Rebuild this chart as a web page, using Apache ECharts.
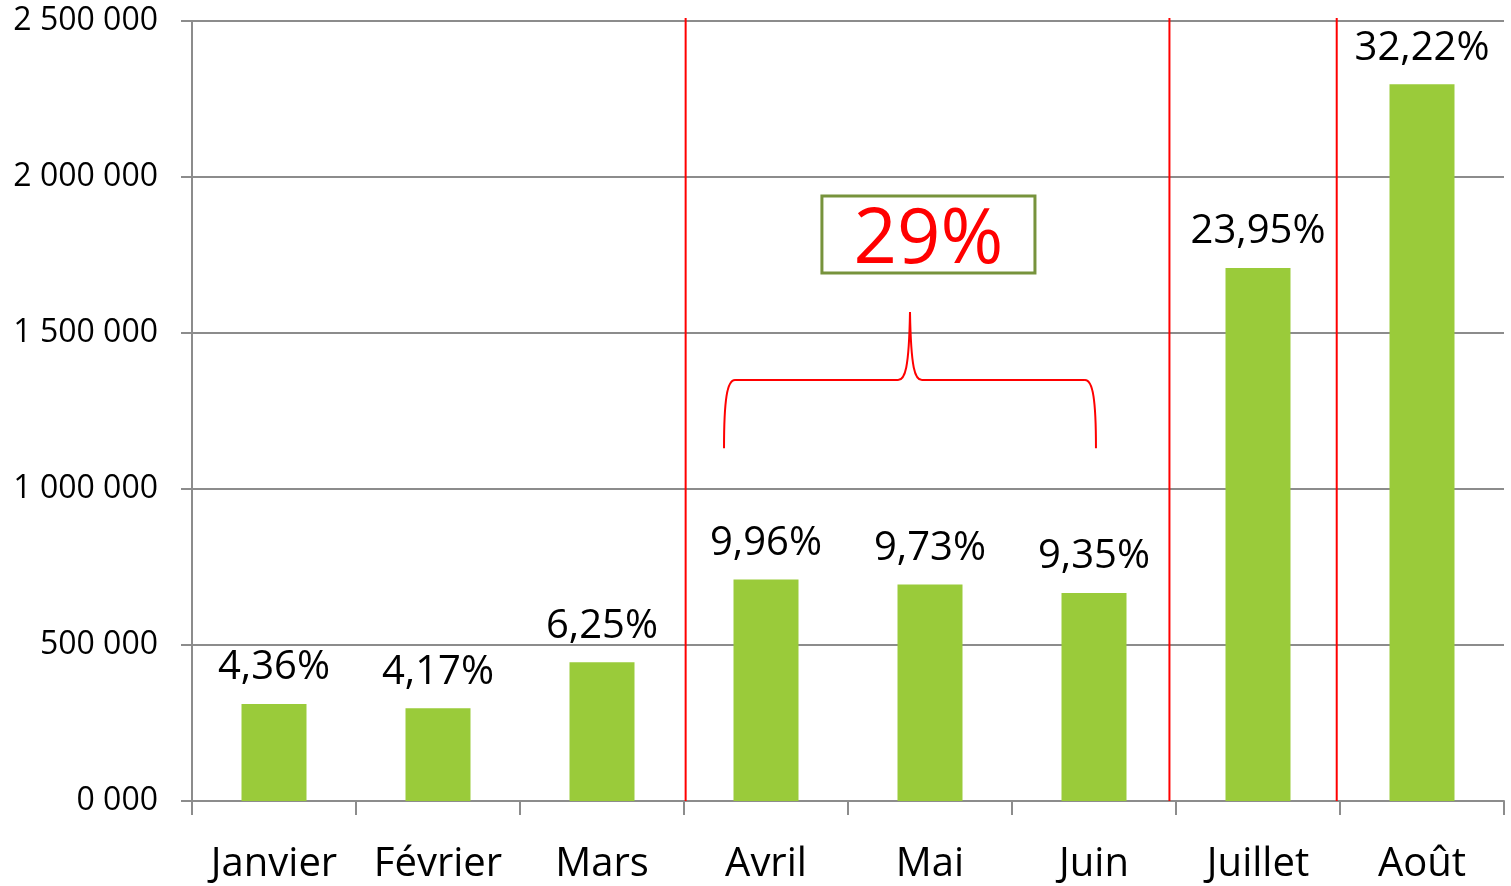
<!DOCTYPE html>
<html>
<head>
<meta charset="utf-8">
<script src="https://cdn.jsdelivr.net/npm/echarts@6/dist/echarts.min.js"></script>
<style>
    html, body { margin: 0; padding: 0; background: #fff; }
    #main { width: 1511px; height: 886px; }
</style>
</head>
<body>
<div id="main"></div>
<script>
    const months = ['Janvier', 'Février', 'Mars', 'Avril', 'Mai', 'Juin', 'Juillet', 'Août'];
    const values = [311000, 297000, 445000, 710000, 694000, 667000, 1708000, 2297000];
    const shares = ['4,36%', '4,17%', '6,25%', '9,96%', '9,73%', '9,35%', '23,95%', '32,22%'];
    const yTickLabels = ['0 000', '500 000', '1 000 000', '1 500 000', '2 000 000', '2 500 000'];
    // separators, in category units (0..8)
    const separators = [3.01, 5.96, 6.98];
    const groupLabel = '29%';

    const gray = '#8c8c8c';
    const font = 'Open Sans';

    // red vertical separators as plain line series on a hidden value axis
    const sepSeries = separators.map(x => ({
        type: 'line',
        xAxisIndex: 1,
        data: [[x, 0], [x, 2510000]],
        symbol: 'none',
        clip: false,
        silent: true,
        lineStyle: {color: '#ff0000', width: 2}
    }));

    const myChart = echarts.init(document.getElementById('main'));
    myChart.setOption({
        animation: false,
        textStyle: {fontFamily: font},
        grid: {left: 192, right: 7, top: 21, bottom: 85},
        xAxis: [
            {
                type: 'category',
                data: months,
                boundaryGap: true,
                axisLine: {lineStyle: {color: gray, width: 2}},
                axisTick: {show: true, length: 14, lineStyle: {color: gray, width: 2}},
                axisLabel: {color: '#000', fontSize: 40, margin: 44, fontFamily: font, interval: 0}
            },
            {type: 'value', min: 0, max: 8, show: false}
        ],
        yAxis: {
            type: 'value',
            min: 0,
            max: 2500000,
            interval: 500000,
            axisLine: {show: true, lineStyle: {color: gray, width: 2}},
            axisTick: {show: true, length: 11, lineStyle: {color: gray, width: 2}},
            splitLine: {lineStyle: {color: gray, width: 2}},
            axisLabel: {
                color: '#000', fontSize: 32, margin: 34, fontFamily: font,
                formatter: (v) => yTickLabels[Math.round(v / 500000)]
            }
        },
        series: [
            {
                type: 'bar',
                data: values,
                barWidth: 65,
                itemStyle: {color: '#9acb3a'},
                label: {
                    show: true,
                    position: 'top',
                    distance: 16,
                    color: '#000',
                    fontSize: 40,
                    fontFamily: font,
                    formatter: (p) => shares[p.dataIndex]
                }
            }
        ].concat(sepSeries)
    });

    function px(x, y) {
        return myChart.convertToPixel({xAxisIndex: 1, yAxisIndex: 0}, [x, y]);
    }

    // brace over Avril-Juin and boxed total
    const [x0, yb] = px(3.244, 1131000);
    const [x1] = px(5.512, 0);
    const [xm, yh] = px(4.378, 1349000);
    const [, yt] = px(0, 1567000);
    const red = {fill: 'none', stroke: '#ff0000', lineWidth: 2};
    const curve = (a, b, c, d) => ({
        type: 'bezierCurve',
        shape: {x1: a[0], y1: a[1], cpx1: b[0], cpy1: b[1], cpx2: c[0], cpy2: c[1], x2: d[0], y2: d[1]},
        style: red
    });
    const seg = (a, b) => ({type: 'line', shape: {x1: a[0], y1: a[1], x2: b[0], y2: b[1]}, style: red});
    const brace = [
        curve([x0, yb], [x0, yb - 48], [x0 + 3, yh], [x0 + 11, yh]),
        seg([x0 + 11, yh], [xm - 12, yh]),
        curve([xm - 12, yh], [xm - 5, yh], [xm - 1, yh - 11], [xm, yt]),
        curve([xm, yt], [xm + 1, yh - 11], [xm + 5, yh], [xm + 12, yh]),
        seg([xm + 12, yh], [x1 - 11, yh]),
        curve([x1 - 11, yh], [x1 - 3, yh], [x1, yb - 48], [x1, yb])
    ];
    const [bx0, by0] = px(3.841, 1939000);
    const [bx1, by1] = px(5.140, 1692000);

    myChart.setOption({
        graphic: brace.concat([
            {
                type: 'rect',
                shape: {x: bx0, y: by0, width: bx1 - bx0, height: by1 - by0},
                style: {fill: '#fff', stroke: '#77933c', lineWidth: 3}
            },
            {
                type: 'text',
                x: (bx0 + bx1) / 2,
                y: (by0 + by1) / 2 + 7,
                style: {
                    text: groupLabel, fill: '#ff0000', fontSize: 76, fontFamily: font,
                    align: 'center', verticalAlign: 'middle'
                }
            }
        ])
    });
</script>
</body>
</html>
